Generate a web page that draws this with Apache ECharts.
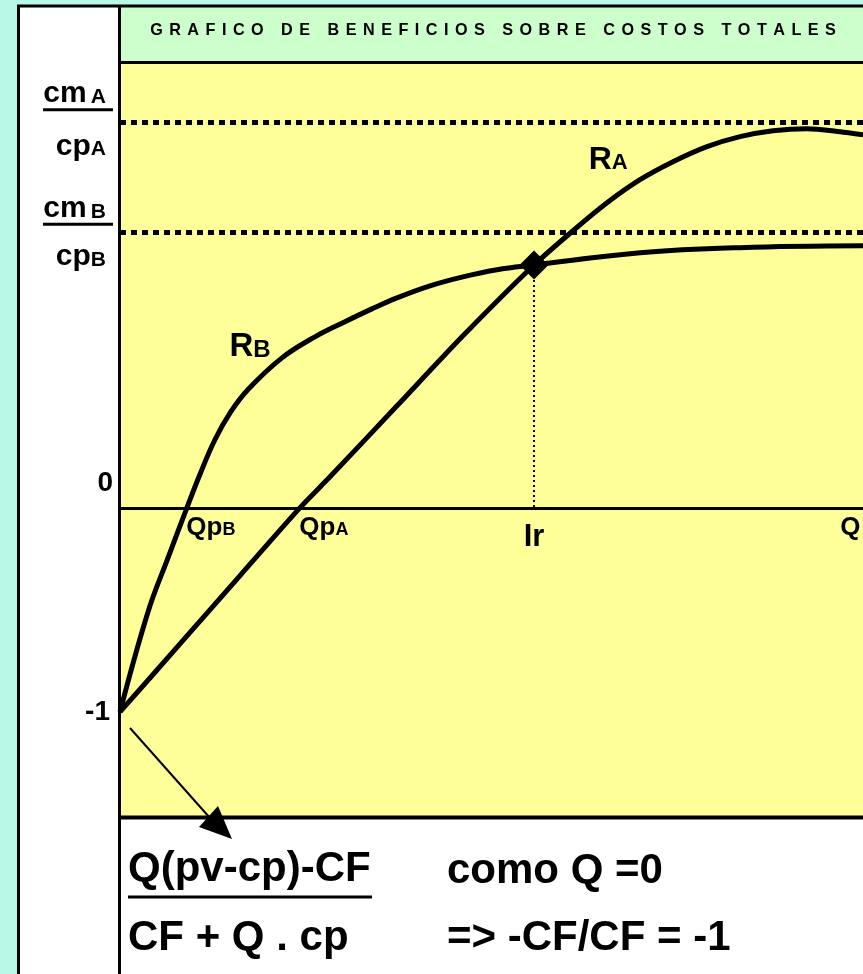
<!DOCTYPE html>
<html>
<head>
<meta charset="utf-8">
<title>Grafico de beneficios sobre costos totales</title>
<style>
  html, body { margin: 0; padding: 0; background: #B9F7E6; }
  #main { width: 863px; height: 974px; }
</style>
<script src="https://cdn.jsdelivr.net/npm/echarts@6/dist/echarts.min.js"></script>
</head>
<body>
<div id="main"></div>
<script>
// quantity (0-100) and profit over total cost for the two options
var qA = [0, 8.07, 16.13, 24.2, 28.26, 37.28, 46.16, 55.72, 60.97, 65.55, 69.99, 74.43, 79.0, 83.45, 87.89, 92.46, 96.9, 100];
var rA = [-1, -0.667, -0.333, 0, 0.152, 0.5, 0.843, 1.19, 1.358, 1.495, 1.608, 1.696, 1.770, 1.819, 1.848, 1.858, 1.843, 1.828];
var qB = [0, 3.77, 6.46, 9.0, 10.77, 12.79, 14.9, 17.23, 21.8, 26.24, 30.28, 33.9, 37.28, 41.72, 46.16, 50.74, 55.72, 70.0, 83.45, 100];
var rB = [-1, -0.51, -0.245, 0, 0.165, 0.335, 0.47, 0.58, 0.735, 0.838, 0.912, 0.975, 1.029, 1.088, 1.132, 1.167, 1.19, 1.25, 1.275, 1.284];

// reference levels
var cpA = 1.885;   // cmA / cpA
var cpB = 1.355;   // cmB / cpB
var qpB = 9.0;     // break-even B
var qpA = 24.2;    // break-even A
var ir = 55.72;    // indifference point
var rIr = 1.19;
var qEnd = 97;     // "Q" label

// labels under the zero line
var xMarks = [qpB, qpA, qEnd];
var xMarkText = ['{q|Qp}{qs|B}', '{q|Qp}{qs|A}', '{q|Q}'];

var FONT = '"Liberation Sans", Arial, sans-serif';
var chartDom = document.getElementById('main');
var myChart = echarts.init(chartDom);

function bold(size, extra) {
  var s = { fontFamily: FONT, fontWeight: 'bold', fontSize: size, color: '#000' };
  for (var k in extra) s[k] = extra[k];
  return s;
}

function spaced(t) {
  return t.split('').join('\u2009\u2009');
}

var option = {
  backgroundColor: '#B9F7E6',
  animation: false,
  grid: { left: 120, right: 0, top: 63, bottom: 157, show: false },
  xAxis: {
    type: 'value', min: 0, max: 100,
    splitLine: { show: false },
    axisTick: { show: false },
    axisLabel: { show: false },
    axisLine: { onZero: true, lineStyle: { color: '#000', width: 3 } }
  },
  yAxis: {
    type: 'value', min: -1.515, max: 2.18,
    splitLine: { show: false },
    axisTick: { show: false },
    axisLine: { show: false },
    axisLabel: {
      customValues: [-1, 0, cpB, cpA],
      margin: 7,
      formatter: function (v) {
        if (v === -1) return '{n|-1}';
        if (v === 0) return '{z|0}';
        if (v === cpA) return '{spA| }\n{a|cm}{as|\u2009A}\n{bar| }\n{pA|cp}{psA|A}';
        return '{spB| }\n{a|cm}{as|\u2009B}\n{bar| }\n{pB|cp}{psB|B}';
      },
      rich: {
        n: bold(28, { padding: [0, 3, 0, 0] }),
        z: bold(28, { padding: [0, 0, 50, 0] }),
        a: bold(30, { lineHeight: 28 }),
        as: bold(21, { lineHeight: 28, padding: [6, 7, 0, 0] }),
        bar: { width: 70, height: 3, lineHeight: 3, fontSize: 1, backgroundColor: '#000' },
        pA: bold(30, { lineHeight: 71 }),
        psA: bold(21, { lineHeight: 71, padding: [6, 7, 0, 0] }),
        pB: bold(30, { lineHeight: 62 }),
        psB: bold(21, { lineHeight: 62, padding: [6, 7, 0, 0] }),
        spA: { fontSize: 1, lineHeight: 16 },
        spB: { fontSize: 1, lineHeight: 20 }
      }
    }
  },
  series: [
    {
      name: 'RA',
      type: 'line',
      smooth: 0.25,
      symbol: 'none',
      lineStyle: { color: '#000', width: 5 },
      data: qA.map(function (q, i) { return [q, rA[i]]; }),
      markLine: {
        silent: true,
        symbol: ['none', 'none'],
        label: { show: false },
        lineStyle: { color: '#000', width: 5, type: [6, 5] },
        data: [{ yAxis: cpA }, { yAxis: cpB }]
      },
      markPoint: {
        symbol: 'circle', symbolSize: 1,
        itemStyle: { color: 'rgba(0,0,0,0)' },
        label: {
          show: true, position: 'inside', color: '#000',
          formatter: '{r|R}{rs|A}',
          rich: { r: bold(32), rs: bold(22, { padding: [7, 0, 0, 0] }) }
        },
        data: [{ coord: [65.7, 1.706] }]
      }
    },
    {
      name: 'RB',
      type: 'line',
      smooth: 0.4,
      symbol: 'none',
      lineStyle: { color: '#000', width: 5 },
      data: qB.map(function (q, i) { return [q, rB[i]]; }),
      markLine: {
        silent: true,
        symbol: ['none', 'none'],
        lineStyle: { color: '#000', width: 2, type: [2, 3] },
        label: {
          show: true, position: 'end', distance: 14,
          formatter: 'Ir', color: '#000',
          fontFamily: FONT, fontWeight: 'bold', fontSize: 31
        },
        data: [[{ coord: [ir, rIr] }, { coord: [ir, 0] }]]
      },
      markPoint: {
        symbol: 'circle', symbolSize: 1,
        itemStyle: { color: 'rgba(0,0,0,0)' },
        label: {
          show: true, position: 'inside', color: '#000',
          formatter: '{r|R}{rs|B}',
          rich: { r: bold(33), rs: bold(24, { padding: [7, 0, 0, 0] }) }
        },
        data: [{ coord: [17.5, 0.789] }]
      }
    },
    {
      name: 'Ir',
      type: 'scatter',
      symbol: 'diamond',
      symbolSize: 29,
      itemStyle: { color: '#000', opacity: 1 },
      data: [[ir, rIr]],
      z: 5
    },
    {
      name: 'labels',
      type: 'scatter',
      silent: true,
      symbolSize: 1,
      itemStyle: { color: 'rgba(0,0,0,0)', opacity: 1 },
      label: {
        show: true,
        color: '#000',
        position: [0, 7],
        align: 'left',
        verticalAlign: 'top',
        formatter: function (p) { return xMarkText[p.dataIndex]; },
        rich: {
          q: bold(26),
          qs: bold(18, { padding: [6, 0, 0, 0] })
        }
      },
      data: xMarks.map(function (q) { return [q, 0]; })
    }
  ],
  graphic: [
    // panels
    { type: 'rect', z: -10, shape: { x: 18, y: 6, width: 102, height: 975 }, style: { fill: '#FFFFFF' } },
    { type: 'rect', z: -10, shape: { x: 120, y: 6, width: 760, height: 57 }, style: { fill: '#CCFFCC' } },
    { type: 'rect', z: -10, shape: { x: 120, y: 63, width: 760, height: 755 }, style: { fill: '#FFFF99' } },
    { type: 'rect', z: -10, shape: { x: 120, y: 817, width: 760, height: 170 }, style: { fill: '#FFFFFF' } },
    // frame lines
    { type: 'line', z: 10, shape: { x1: 17, y1: 6, x2: 870, y2: 6 }, style: { stroke: '#000', lineWidth: 3 } },
    { type: 'line', z: 10, shape: { x1: 18.5, y1: 6, x2: 18.5, y2: 980 }, style: { stroke: '#000', lineWidth: 3 } },
    { type: 'line', z: 10, shape: { x1: 119.5, y1: 6, x2: 119.5, y2: 980 }, style: { stroke: '#000', lineWidth: 3 } },
    { type: 'line', z: 10, shape: { x1: 119, y1: 62.5, x2: 870, y2: 62.5 }, style: { stroke: '#000', lineWidth: 3 } },
    { type: 'line', z: 10, shape: { x1: 119, y1: 817.5, x2: 870, y2: 817.5 }, style: { stroke: '#000', lineWidth: 4 } },
    // title
    {
      type: 'text', z: 10,
      style: {
        text: spaced('GRAFICO DE BENEFICIOS SOBRE COSTOS TOTALES'),
        x: 493, y: 31, align: 'center', verticalAlign: 'middle',
        textAlign: 'center', textVerticalAlign: 'middle',
        font: 'bold 16.2px ' + FONT, fill: '#000'
      }
    },
    // arrow from -1 to the formula
    { type: 'line', z: 10, shape: { x1: 130, y1: 728, x2: 210, y2: 818 }, style: { stroke: '#000', lineWidth: 2 } },
    { type: 'polygon', z: 10, shape: { points: [[218, 806], [199, 827], [232, 839]] }, style: { fill: '#000' } },
    // formula block
    {
      type: 'text', z: 10,
      style: { text: 'Q(pv-cp)-CF', x: 128, y: 869, align: 'left', verticalAlign: 'middle', font: 'bold 42px ' + FONT, fill: '#000' }
    },
    { type: 'line', z: 10, shape: { x1: 128, y1: 897, x2: 372, y2: 897 }, style: { stroke: '#000', lineWidth: 3 } },
    {
      type: 'text', z: 10,
      style: { text: 'CF + Q . cp', x: 128, y: 938, align: 'left', verticalAlign: 'middle', font: 'bold 42px ' + FONT, fill: '#000' }
    },
    {
      type: 'text', z: 10,
      style: { text: 'como Q =0', x: 447, y: 871, align: 'left', verticalAlign: 'middle', font: 'bold 42px ' + FONT, fill: '#000' }
    },
    {
      type: 'text', z: 10,
      style: { text: '=> -CF/CF = -1', x: 447, y: 938, align: 'left', verticalAlign: 'middle', font: 'bold 42px ' + FONT, fill: '#000' }
    }
  ]
};

myChart.setOption(option);
window.addEventListener('resize', myChart.resize);
</script>
</body>
</html>
